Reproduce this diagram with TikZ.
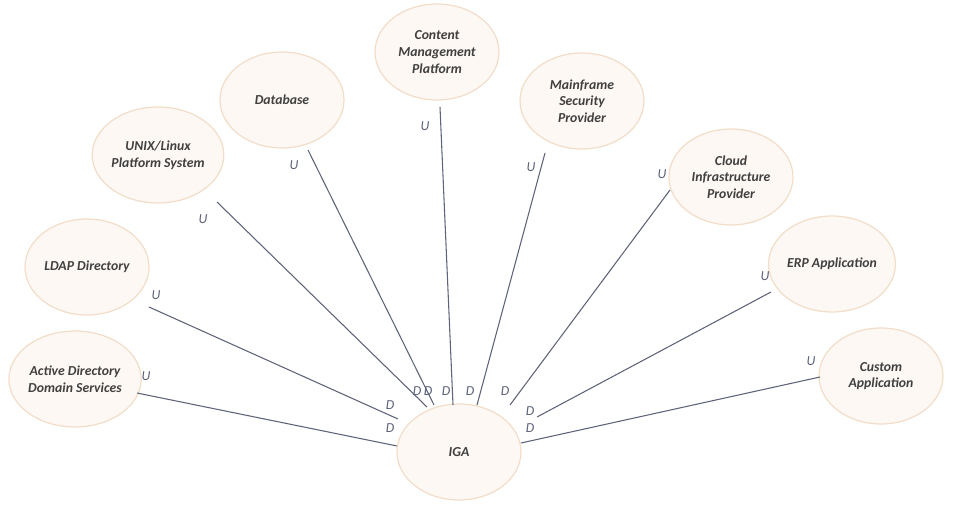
\documentclass[tikz,border=0pt]{standalone}
\usepackage{fontspec}
\setmainfont{Carlito}
\usetikzlibrary{shapes.geometric}
\definecolor{edgec}{HTML}{F2DDC8}
\definecolor{fillc}{HTML}{FDF8F4}
\definecolor{linec}{HTML}{5E6379}
\definecolor{labc}{HTML}{5A6178}
\begin{document}
\begin{tikzpicture}[x=0.75pt,y=-0.75pt,
  sys/.style={ellipse,draw=edgec,fill=fillc,line width=0.9pt,minimum width=93pt,minimum height=72pt,inner sep=0pt,align=center,font=\fontsize{10.3}{12.5}\selectfont\bfseries\itshape,text=black!75},
  conn/.style={draw=linec,line width=0.8pt},
  lab/.style={font=\fontsize{10.3}{12}\selectfont\itshape,text=labc,inner sep=0pt}]
\useasboundingbox (0,0) rectangle (960,516);
\node[sys] (iga) at (459,452) {IGA};
\node[sys] (ad) at (75,379) {Active Directory\\Domain Services};
\node[sys] (ldap) at (87,267) {LDAP Directory};
\node[sys] (unix) at (158,155) {UNIX/Linux\\Platform System};
\node[sys] (db) at (282,100) {Database};
\node[sys] (cm) at (437,52) {Content\\Management\\Platform};
\node[sys] (mf) at (582,101) {Mainframe\\Security\\Provider};
\node[sys] (cl) at (731,177) {Cloud\\Infrastructure\\Provider};
\node[sys] (erp) at (832,264) {ERP Application};
\node[sys] (cu) at (881,376) {Custom\\Application};
\coordinate (a1) at (137,393); \coordinate (b1) at (397,446);
\coordinate (a2) at (149,307); \coordinate (b2) at (398,419);
\coordinate (a3) at (217,202); \coordinate (b3) at (427,407);
\coordinate (a4) at (308,150); \coordinate (b4) at (434,405);
\coordinate (a5) at (440,107); \coordinate (b5) at (453,405);
\coordinate (a6) at (545,153); \coordinate (b6) at (477,405);
\coordinate (a7) at (670,190); \coordinate (b7) at (510,405);
\coordinate (a8) at (771,292); \coordinate (b8) at (537,417);
\coordinate (a9) at (820,377); \coordinate (b9) at (521,443);
\foreach \i in {1,...,9}{\draw[conn] (a\i) -- (b\i);}
\foreach \p/\t in {{(146,376)}/U,{(156,295)}/U,{(203,219)}/U,{(294,165)}/U,{(425,126)}/U,{(531,167)}/U,{(662,174)}/U,{(765,276)}/U,{(811,361)}/U,
  {(390,405)}/D,{(390,428)}/D,{(417,391)}/D,{(428,391)}/D,{(446,391)}/D,{(470,391)}/D,{(505,391)}/D,{(530,411)}/D,{(530,428)}/D}
  {\node[lab] at \p {\t};}
\end{tikzpicture}
\end{document}
